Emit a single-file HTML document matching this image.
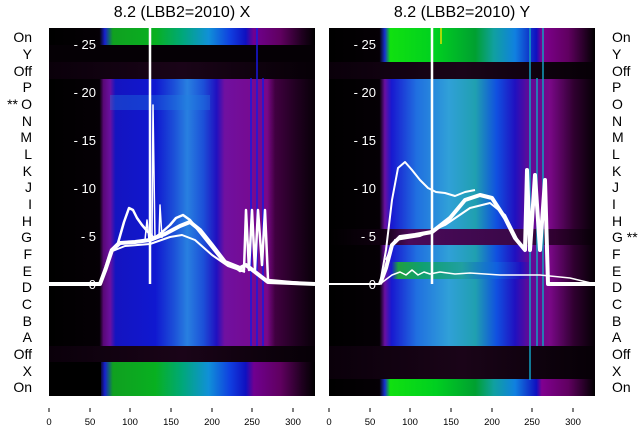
<!DOCTYPE html>
<html><head><meta charset="utf-8"><style>
body{margin:0;background:#fff;width:640px;height:440px;overflow:hidden}
svg{font-family:"Liberation Sans","DejaVu Sans",sans-serif}
</style></head><body>
<svg width="640" height="440" viewBox="0 0 640 440" xmlns="http://www.w3.org/2000/svg">
<defs>
<linearGradient id="bl" x1="0" x2="1">
<stop offset="0" stop-color="#000"/><stop offset="0.19" stop-color="#050005"/>
<stop offset="0.205" stop-color="#5a0878"/><stop offset="0.23" stop-color="#6a10a0"/>
<stop offset="0.25" stop-color="#1414c0"/><stop offset="0.4" stop-color="#1018d0"/>
<stop offset="0.47" stop-color="#1c50d8"/><stop offset="0.52" stop-color="#2880e0"/>
<stop offset="0.58" stop-color="#1c50d8"/><stop offset="0.63" stop-color="#2010c0"/>
<stop offset="0.66" stop-color="#7010a0"/><stop offset="0.82" stop-color="#7a0888"/>
<stop offset="0.85" stop-color="#400040"/><stop offset="0.93" stop-color="#200020"/>
<stop offset="1" stop-color="#080008"/></linearGradient>
<linearGradient id="blr" x1="0" x2="1">
<stop offset="0" stop-color="#000"/><stop offset="0.19" stop-color="#050005"/>
<stop offset="0.21" stop-color="#6a10a0"/><stop offset="0.235" stop-color="#1818d0"/>
<stop offset="0.33" stop-color="#2070e0"/><stop offset="0.45" stop-color="#30a0d8"/>
<stop offset="0.55" stop-color="#20a0b0"/><stop offset="0.63" stop-color="#1050e0"/>
<stop offset="0.7" stop-color="#2010c0"/><stop offset="0.75" stop-color="#600a98"/>
<stop offset="0.83" stop-color="#7a0888"/><stop offset="0.92" stop-color="#300030"/>
<stop offset="1" stop-color="#050005"/></linearGradient>
<linearGradient id="gr" x1="0" x2="1">
<stop offset="0" stop-color="#000"/><stop offset="0.19" stop-color="#050005"/>
<stop offset="0.21" stop-color="#1820d0"/><stop offset="0.24" stop-color="#10a020"/>
<stop offset="0.4" stop-color="#08b020"/><stop offset="0.5" stop-color="#00a878"/>
<stop offset="0.6" stop-color="#1090d8"/><stop offset="0.68" stop-color="#1040e0"/>
<stop offset="0.74" stop-color="#1010c0"/><stop offset="0.77" stop-color="#700090"/>
<stop offset="0.87" stop-color="#600060"/><stop offset="0.95" stop-color="#200020"/>
<stop offset="1" stop-color="#000"/></linearGradient>
<linearGradient id="grr" x1="0" x2="1">
<stop offset="0" stop-color="#000"/><stop offset="0.19" stop-color="#050005"/>
<stop offset="0.21" stop-color="#1830d0"/><stop offset="0.23" stop-color="#10e010"/>
<stop offset="0.4" stop-color="#00d020"/><stop offset="0.55" stop-color="#00a030"/>
<stop offset="0.62" stop-color="#10a0a0"/><stop offset="0.7" stop-color="#1080e0"/>
<stop offset="0.78" stop-color="#1010c0"/><stop offset="0.8" stop-color="#800090"/>
<stop offset="0.9" stop-color="#600060"/><stop offset="1" stop-color="#000"/></linearGradient>
<linearGradient id="dk" x1="0" x2="1">
<stop offset="0" stop-color="#0a000a"/><stop offset="0.5" stop-color="#1a0418"/><stop offset="1" stop-color="#060006"/></linearGradient>
<linearGradient id="gp" x1="0" x2="1">
<stop offset="0" stop-color="#000"/><stop offset="0.2" stop-color="#100010"/><stop offset="0.3" stop-color="#4a0a5a"/><stop offset="0.7" stop-color="#3a0848"/><stop offset="0.85" stop-color="#300030"/><stop offset="1" stop-color="#050005"/></linearGradient>
<linearGradient id="er" x1="0" x2="1">
<stop offset="0" stop-color="#000"/><stop offset="0.19" stop-color="#050005"/>
<stop offset="0.21" stop-color="#6a10a0"/><stop offset="0.235" stop-color="#1818d0"/>
<stop offset="0.26" stop-color="#20a040"/><stop offset="0.35" stop-color="#10a070"/>
<stop offset="0.5" stop-color="#20a0a0"/><stop offset="0.63" stop-color="#1060e0"/>
<stop offset="0.72" stop-color="#2010c0"/><stop offset="0.76" stop-color="#600a98"/>
<stop offset="0.83" stop-color="#7a0888"/><stop offset="0.92" stop-color="#300030"/>
<stop offset="1" stop-color="#050005"/></linearGradient>
</defs>
<text x="182" y="17" font-size="16" text-anchor="middle">8.2 (LBB2=2010) X</text>
<text x="462" y="17" font-size="16" text-anchor="middle">8.2 (LBB2=2010) Y</text>

<g>
<rect x="49" y="28" width="266" height="368" fill="url(#bl)"/>
<rect x="49" y="28" width="266" height="17" fill="url(#gr)"/>
<rect x="49" y="45" width="266" height="17" fill="#050005"/>
<rect x="49" y="62" width="266" height="17" fill="url(#dk)"/>
<rect x="110" y="95" width="100" height="15" fill="#2080e0" opacity="0.35"/>
<rect x="49" y="346" width="266" height="16" fill="url(#dk)"/>
<rect x="49" y="362" width="266" height="34" fill="url(#gr)"/>
<rect x="49" y="362" width="52" height="34" fill="#000"/>
<g stroke="#1818e0" stroke-width="1.5"><line x1="251" y1="78" x2="251" y2="346"/><line x1="257" y1="28" x2="257" y2="346"/><line x1="263" y1="78" x2="263" y2="346"/></g>
<g fill="#fff" font-size="13" text-anchor="end">
<text x="96" y="289">0</text><text x="96" y="241">- 5</text><text x="96" y="193">- 10</text><text x="96" y="145">- 15</text><text x="96" y="97">- 20</text><text x="96" y="49">- 25</text>
<text x="330" y="289">0</text><text x="330" y="241">5</text><text x="330" y="193">10</text><text x="330" y="145">15</text><text x="330" y="97">20</text><text x="330" y="49">25</text>
</g>
<line x1="150" y1="28" x2="150" y2="284" stroke="#fff" stroke-width="2.5"/>
<g fill="none" stroke="#fff" stroke-linejoin="round">
<path stroke-width="2.5" d="M49 284 L100 284 L106 270 L111 250 L118 243 L124 222 L129 208 L133 210 L137 218 L142 225 L148 232 L154 238 L160 234 L170 225 L176 218 L183 215 L190 220 L198 230 L210 245 L222 260 L232 265 L240 271 L244 270 L246 210 L249 270 L252 210 L255 270 L258 210 L262 265 L265 210 L268 280 L290 282 L315 284"/>
<path stroke-width="4" d="M49 284 L100 284 L106 268 L112 250 L120 243 L135 242 L150 240 L165 234 L180 226 L190 222 L200 230 L212 245 L225 262 L240 268 L246 265 L268 282 L315 284"/>
<path stroke-width="2" d="M100 284 L110 252 L125 246 L150 244 L170 237 L182 235 L195 240 L212 255 L228 266 L245 272"/>
<path stroke-width="1.5" d="M152 240 L153 105 L155 240 M159 238 L160 205 L162 238 M145 240 L147 220 L149 240"/>
</g>
</g>

<g>
<rect x="329" y="28" width="266" height="368" fill="url(#blr)"/>
<rect x="329" y="28" width="266" height="34" fill="url(#grr)"/>
<rect x="329" y="62" width="266" height="17" fill="url(#dk)"/>
<rect x="329" y="229" width="266" height="16" fill="url(#gp)"/>
<rect x="329" y="262" width="266" height="17" fill="url(#er)"/>
<rect x="329" y="346" width="266" height="34" fill="url(#dk)"/>
<rect x="329" y="379" width="266" height="17" fill="url(#grr)"/>
<g stroke="#10a0c0" stroke-width="1.5"><line x1="530" y1="28" x2="530" y2="380"/><line x1="537" y1="78" x2="537" y2="346"/><line x1="543" y1="28" x2="543" y2="346"/></g>
<line x1="441" y1="28" x2="441" y2="44" stroke="#e0e000" stroke-width="1.5"/>
<g fill="#fff" font-size="13" text-anchor="end">
<text x="376" y="289">0</text><text x="376" y="241">- 5</text><text x="376" y="193">- 10</text><text x="376" y="145">- 15</text><text x="376" y="97">- 20</text><text x="376" y="49">- 25</text>
</g>
<line x1="432" y1="28" x2="432" y2="284" stroke="#fff" stroke-width="2.5"/>
<g fill="none" stroke="#fff" stroke-linejoin="round">
<path stroke-width="2" d="M329 284 L380 284 L386 250 L392 200 L398 168 L405 162 L412 170 L420 180 L428 188 L436 192 L445 193 L455 196 L465 192 L475 190"/>
<path stroke-width="4" d="M380 284 L386 268 L392 245 L400 237 L415 235 L432 232 L450 218 L465 200 L480 195 L492 198 L505 218 L515 238 L525 250 L527 170 L530 250 L535 175 L540 250 L545 180 L548 284 L560 284 L595 284"/>
<path stroke-width="2" d="M386 260 L395 240 L420 236 L445 225 L470 208 L490 203 L505 215 L520 245"/>
<path stroke-width="1.5" d="M380 284 L392 275 L400 272 L406 275 L412 270 L418 275 L424 272 L430 274 L440 272 L455 274 L470 273 L500 275 L540 275 L570 278 L595 284"/>
</g>
</g>

<g font-size="14" fill="#000">
<g text-anchor="end">
<text x="32" y="42">On</text><text x="32" y="59">Y</text><text x="32" y="76">Off</text><text x="32" y="92">P</text><text x="32" y="109">O</text><text x="32" y="126">N</text><text x="32" y="142">M</text><text x="32" y="159">L</text><text x="32" y="176">K</text><text x="32" y="192">J</text><text x="32" y="209">I</text><text x="32" y="226">H</text><text x="32" y="242">G</text><text x="32" y="259">F</text><text x="32" y="276">E</text><text x="32" y="292">D</text><text x="32" y="309">C</text><text x="32" y="326">B</text><text x="32" y="342">A</text><text x="32" y="359">Off</text><text x="32" y="376">X</text><text x="32" y="392">On</text>
<text x="18" y="109">**</text>
</g>
<g>
<text x="612" y="42">On</text><text x="612" y="59">Y</text><text x="612" y="76">Off</text><text x="612" y="92">P</text><text x="612" y="109">O</text><text x="612" y="126">N</text><text x="612" y="142">M</text><text x="612" y="159">L</text><text x="612" y="176">K</text><text x="612" y="192">J</text><text x="612" y="209">I</text><text x="612" y="226">H</text><text x="612" y="242">G **</text><text x="612" y="259">F</text><text x="612" y="276">E</text><text x="612" y="292">D</text><text x="612" y="309">C</text><text x="612" y="326">B</text><text x="612" y="342">A</text><text x="612" y="359">Off</text><text x="612" y="376">X</text><text x="612" y="392">On</text>
</g>
</g>

<g stroke="#000" stroke-width="1">
<line x1="49" y1="408" x2="49" y2="412"/><line x1="90" y1="408" x2="90" y2="412"/><line x1="130" y1="408" x2="130" y2="412"/><line x1="171" y1="408" x2="171" y2="412"/><line x1="212" y1="408" x2="212" y2="412"/><line x1="252" y1="408" x2="252" y2="412"/><line x1="293" y1="408" x2="293" y2="412"/>
<line x1="329" y1="408" x2="329" y2="412"/><line x1="370" y1="408" x2="370" y2="412"/><line x1="410" y1="408" x2="410" y2="412"/><line x1="451" y1="408" x2="451" y2="412"/><line x1="492" y1="408" x2="492" y2="412"/><line x1="532" y1="408" x2="532" y2="412"/><line x1="573" y1="408" x2="573" y2="412"/>
</g>
<g font-size="9.5" text-anchor="middle" fill="#000">
<text x="49" y="425">0</text><text x="90" y="425">50</text><text x="130" y="425">100</text><text x="171" y="425">150</text><text x="212" y="425">200</text><text x="252" y="425">250</text><text x="293" y="425">300</text>
<text x="329" y="425">0</text><text x="370" y="425">50</text><text x="410" y="425">100</text><text x="451" y="425">150</text><text x="492" y="425">200</text><text x="532" y="425">250</text><text x="573" y="425">300</text>
</g>
</svg>
</body></html>
